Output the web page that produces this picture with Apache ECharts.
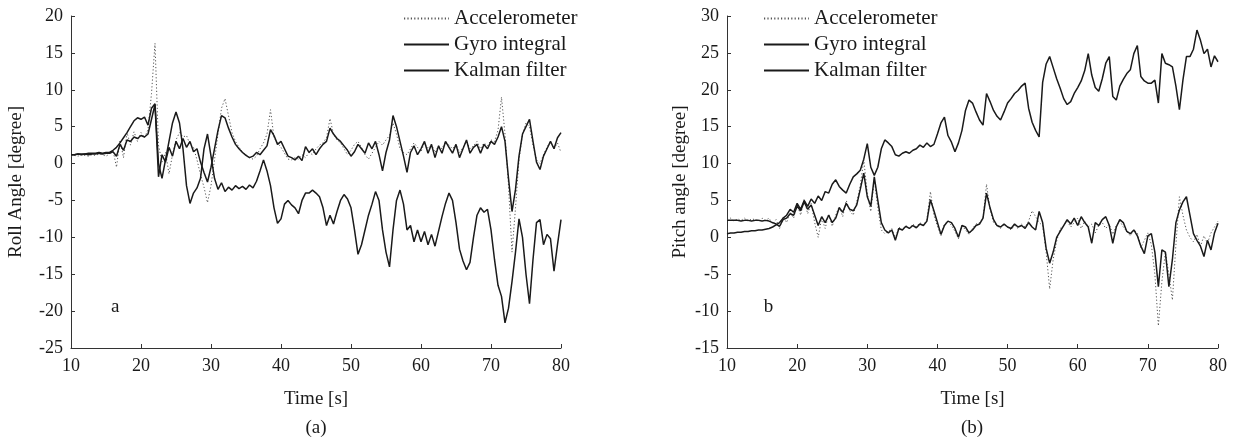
<!DOCTYPE html>
<html>
<head>
<meta charset="utf-8">
<script src="https://cdn.jsdelivr.net/npm/echarts@6/dist/echarts.min.js"></script>
<style>
html,body{margin:0;padding:0;background:#fff;}
#chart{width:1245px;height:443px;}
</style>
</head>
<body>
<div id="chart"></div>
<script>
// Sampling times [s]
const TIME = [10,10.5,11,11.5,12,12.5,13,13.5,14,14.5,15,15.5,
16,16.5,17,17.5,18,18.5,19,19.5,20,20.5,21,21.5,
22,22.5,23,23.5,24,24.5,25,25.5,26,26.5,27,27.5,
28,28.5,29,29.5,30,30.5,31,31.5,32,32.5,33,33.5,
34,34.5,35,35.5,36,36.5,37,37.5,38,38.5,39,39.5,
40,40.5,41,41.5,42,42.5,43,43.5,44,44.5,45,45.5,
46,46.5,47,47.5,48,48.5,49,49.5,50,50.5,51,51.5,
52,52.5,53,53.5,54,54.5,55,55.5,56,56.5,57,57.5,
58,58.5,59,59.5,60,60.5,61,61.5,62,62.5,63,63.5,
64,64.5,65,65.5,66,66.5,67,67.5,68,68.5,69,69.5,
70,70.5,71,71.5,72,72.5,73,73.5,74,74.5,75,75.5,
76,76.5,77,77.5,78,78.5,79,79.5,80];

// (a) Roll angle [degree]
const rollAccelerometer = [1.0,1.1,1.0,1.2,1.1,1.0,1.2,1.1,1.3,1.2,1.0,1.3,
1.8,-0.5,3.2,0.8,4.2,2.5,4.3,3.0,4.2,3.5,4.6,9.5,
16.3,2.5,0.2,1.5,-1.4,1.2,3.2,4.2,3.6,3.8,2.6,2.2,
0.5,-1.5,-3.2,-5.3,-3.0,0.5,4.0,7.5,8.8,6.5,4.2,3.0,
2.2,1.6,1.2,0.8,0.6,1.0,2.0,2.8,4.0,7.3,3.5,2.8,
2.2,1.4,0.6,0.5,0.8,0.6,1.2,0.8,1.5,1.2,2.0,2.5,
2.8,3.5,6.1,4.0,3.2,2.8,2.0,1.2,1.8,2.6,3.0,2.2,
1.2,0.6,1.4,2.2,3.0,2.5,3.2,3.8,5.5,4.0,2.0,1.5,
1.2,2.0,2.8,2.2,1.6,2.8,2.0,2.6,1.5,2.4,2.0,3.0,
2.5,2.0,2.6,1.5,2.2,3.0,2.0,2.4,3.0,2.0,2.8,2.4,
3.2,3.0,4.5,9.0,4.0,-3.0,-12.0,-6.0,0.5,4.0,5.5,5.0,
2.5,0.5,0.0,1.2,2.2,3.0,2.0,2.8,1.5];
const rollGyro = [1.2,1.2,1.3,1.3,1.3,1.4,1.4,1.4,1.5,1.4,1.5,1.5,
1.8,2.2,2.8,3.5,4.2,5.0,5.8,6.2,6.0,6.3,5.2,7.5,
8.1,0.0,-2.0,0.5,3.0,5.5,7.0,5.5,2.0,-3.0,-5.4,-4.0,
-3.3,-2.0,2.0,4.0,1.0,-2.0,-3.5,-2.6,-3.8,-3.2,-3.6,-3.0,
-3.4,-3.1,-3.5,-2.9,-3.3,-2.4,-1.0,0.5,-1.0,-3.0,-6.0,-8.1,
-7.5,-5.5,-5.0,-5.6,-6.0,-6.8,-5.0,-4.0,-4.0,-3.6,-4.0,-4.5,
-6.0,-8.4,-7.0,-8.2,-6.5,-5.0,-4.2,-4.8,-6.0,-9.0,-12.3,-11.0,
-9.0,-7.0,-5.5,-3.8,-5.0,-9.0,-12.0,-14.0,-9.0,-5.0,-3.6,-5.5,
-9.0,-8.4,-10.6,-9.0,-10.6,-9.2,-11.0,-9.6,-11.2,-9.2,-7.2,-5.4,
-4.0,-5.0,-8.0,-11.6,-13.2,-14.4,-13.4,-10.0,-7.0,-6.0,-6.6,-6.2,
-9.0,-13.0,-16.5,-18.0,-21.6,-19.6,-16.0,-12.0,-7.5,-10.0,-15.0,-19.0,
-13.0,-8.0,-7.6,-11.0,-9.6,-10.2,-14.6,-11.0,-7.6];
const rollKalman = [1.2,1.2,1.3,1.2,1.3,1.2,1.3,1.3,1.4,1.3,1.4,1.4,
1.6,1.0,2.6,1.8,3.2,3.0,3.6,3.4,3.8,3.6,4.0,6.0,
8.0,-1.8,1.2,0.2,2.2,1.0,3.0,2.0,3.4,2.2,3.0,1.6,
2.0,0.2,-1.2,-2.5,-0.5,2.0,4.5,6.5,6.2,4.8,3.6,2.6,
2.0,1.5,1.1,0.8,1.0,1.5,1.2,1.8,2.4,4.6,3.8,2.6,
3.0,2.0,1.0,0.8,0.5,1.0,0.4,2.3,1.5,2.0,1.2,2.0,
2.6,3.0,4.8,4.0,3.4,3.0,2.4,1.8,1.0,1.6,2.6,2.0,
1.4,2.8,2.0,3.0,1.2,-1.0,1.5,3.2,6.5,5.0,3.0,1.0,
-1.2,1.5,2.4,1.2,2.0,3.0,1.4,2.6,0.8,2.4,1.4,3.0,
2.2,1.4,2.6,0.8,2.0,3.2,1.4,2.2,2.6,1.4,2.6,2.0,
3.0,2.6,3.6,5.0,3.0,-2.0,-6.5,-3.5,1.0,4.0,5.0,6.0,
3.0,0.2,-0.8,1.0,2.0,3.0,2.0,3.5,4.2];

// (b) Pitch angle [degree]
const pitchAccelerometer = [2.4,2.6,2.2,2.5,2.3,2.6,2.2,2.5,2.4,2.2,2.6,2.3,
2.6,1.8,2.4,1.2,2.8,2.0,3.4,2.6,4.5,3.0,5.2,3.2,
4.6,2.0,0.0,2.6,1.2,3.2,1.5,3.0,4.2,2.8,5.0,3.6,
3.0,4.8,7.0,10.5,6.0,3.5,7.8,4.0,1.0,0.5,0.8,1.2,
-0.2,1.4,1.0,1.6,1.2,1.8,1.4,2.0,1.6,2.4,6.2,3.0,
1.5,0.2,1.8,2.2,1.6,0.8,-0.2,1.6,1.0,0.4,1.2,1.8,
2.0,2.6,7.2,3.8,2.0,1.6,1.2,1.8,1.4,1.0,1.6,1.2,
1.8,1.4,2.2,3.6,2.8,2.0,1.6,-2.0,-7.0,-3.0,-0.5,1.2,
1.6,2.2,1.4,2.0,2.6,1.2,2.2,1.4,1.8,0.6,1.6,2.0,
1.2,1.8,0.4,1.6,2.2,1.4,0.8,0.2,1.0,0.6,-1.4,-0.4,
0.6,-1.0,-5.0,-12.0,-6.0,-2.0,-5.0,-8.5,-1.0,5.5,3.0,1.0,
0.0,-0.6,0.4,-1.2,0.2,-0.8,0.6,1.4,2.2];
const pitchGyro = [0.5,0.6,0.6,0.7,0.7,0.8,0.8,0.9,0.9,1.0,1.0,1.1,
1.2,1.4,1.7,2.0,2.6,3.0,3.8,3.4,4.6,3.8,5.0,4.2,
5.2,4.6,5.6,5.0,6.2,6.0,7.2,7.8,6.9,6.4,6.0,7.2,
8.2,8.6,9.1,10.6,12.7,9.5,8.4,9.5,12.0,13.2,12.8,12.3,
11.2,11.0,11.4,11.6,11.4,11.8,12.0,12.5,12.2,12.8,12.3,12.6,
14.0,15.5,16.3,13.8,12.9,11.6,12.8,14.5,17.2,18.6,18.2,17.0,
15.9,15.2,19.5,18.4,17.2,16.4,15.9,17.0,18.2,18.8,19.5,19.9,
20.5,20.9,17.5,15.6,14.5,13.6,21.0,23.5,24.5,23.0,21.5,20.2,
18.8,18.0,18.4,19.5,20.3,21.2,22.6,24.9,22.0,20.3,19.8,21.5,
23.6,24.5,19.1,18.6,20.5,21.4,22.2,22.7,24.9,26.0,21.8,21.2,
20.9,20.9,21.3,18.2,24.9,23.6,23.4,23.1,20.5,17.3,21.3,24.5,
24.5,25.5,28.1,26.7,24.9,25.5,23.1,24.6,23.8];
const pitchKalman = [2.3,2.3,2.3,2.3,2.2,2.3,2.3,2.2,2.3,2.3,2.2,2.3,
2.2,2.0,1.8,1.5,2.4,2.6,3.2,3.0,4.2,3.6,4.8,3.8,
4.4,3.0,1.6,2.8,2.0,3.0,2.0,2.6,4.0,3.4,4.6,3.8,
3.6,4.4,6.5,8.7,5.5,4.2,8.2,5.0,2.0,1.0,0.6,1.0,
-0.4,1.2,1.0,1.5,1.2,1.6,1.3,1.8,1.6,2.2,5.1,3.6,
2.0,0.4,1.6,2.2,2.0,1.2,0.0,1.6,1.4,0.6,1.0,1.6,
1.8,2.6,6.0,4.0,2.4,1.6,1.4,1.8,1.4,1.2,1.8,1.4,
1.6,1.2,2.0,1.4,1.0,3.5,2.0,-1.5,-3.5,-2.0,0.0,0.8,
1.6,2.4,1.8,2.6,1.6,2.8,2.0,1.4,-0.8,2.0,1.6,2.4,
2.8,1.6,-0.8,1.4,2.4,2.0,0.8,0.5,1.0,0.2,-1.2,-2.2,
0.2,0.5,-2.0,-6.7,-1.7,-2.0,-6.7,-3.0,2.0,3.7,4.8,5.5,
3.0,0.5,-0.4,-1.2,-2.6,-0.4,-1.7,0.6,1.9];

const SERIES_NAMES = ['Accelerometer', 'Gyro integral', 'Kalman filter'];
const X_TICKS = [10, 20, 30, 40, 50, 60, 70, 80];
const ROLL_Y_RANGE = [-25, 20];
const PITCH_Y_RANGE = [-15, 30];
const PANEL_LETTERS = ['a', 'b'];
const PANEL_LETTER_AT = [[16.3, -19.4], [15.9, -9.4]];
const CAPTIONS = ['(a)', '(b)'];

const FONT = '"Liberation Serif", "Times New Roman", Times, serif';
const INK = '#1a1a1a';

function pairs(vals) { return TIME.map((t, i) => [t, vals[i]]); }

function xAxis(gi) {
  return {
    type: 'value', gridIndex: gi, min: X_TICKS[0], max: X_TICKS[X_TICKS.length - 1], interval: 10,
    name: 'Time [s]', nameLocation: 'middle', nameGap: 42,
    nameTextStyle: { fontFamily: FONT, fontSize: 19, color: INK },
    axisLine: { onZero: false, lineStyle: { color: '#333', width: 1 } },
    axisTick: { inside: true, length: 4, lineStyle: { color: '#333' } },
    axisLabel: { fontFamily: FONT, fontSize: 18, color: INK, margin: 9 },
    splitLine: { show: false }
  };
}
function yAxis(gi, range, name, gap) {
  return {
    type: 'value', gridIndex: gi, min: range[0], max: range[1], interval: 5,
    name: name, nameLocation: 'middle', nameGap: gap,
    nameTextStyle: { fontFamily: FONT, fontSize: 19, color: INK },
    axisLine: { onZero: false, lineStyle: { color: '#333', width: 1 } },
    axisTick: { inside: true, length: 4, lineStyle: { color: '#333' } },
    axisLabel: { fontFamily: FONT, fontSize: 18, color: INK, margin: 8 },
    splitLine: { show: false }
  };
}
function lineSeries(name, gi, vals, dotted, letterIdx) {
  const s = {
    name: name, type: 'line', xAxisIndex: gi, yAxisIndex: gi,
    data: pairs(vals), symbol: 'none', showSymbol: false, animation: false,
    lineStyle: dotted ? { color: '#555', width: 1, type: [1.2, 2.2] } : { color: INK, width: 1.5 },
    itemStyle: { color: dotted ? '#555' : INK },
    z: dotted ? 1 : 2
  };
  if (letterIdx !== undefined) {
    s.markPoint = {
      symbol: 'circle', symbolSize: 0, silent: true, animation: false,
      label: { show: true, formatter: PANEL_LETTERS[letterIdx], fontFamily: FONT, fontSize: 19, color: INK },
      data: [{ coord: PANEL_LETTER_AT[letterIdx] }]
    };
  }
  return s;
}
function legend(left) {
  return {
    left: left, top: 3, orient: 'vertical', itemWidth: 45, itemHeight: 14, itemGap: 5,
    data: SERIES_NAMES, selectedMode: false,
    itemStyle: { opacity: 0, borderWidth: 0 },
    textStyle: { fontFamily: FONT, fontSize: 21, color: INK }
  };
}

const chart = echarts.init(document.getElementById('chart'), null, { renderer: 'canvas' });
chart.setOption({
  backgroundColor: '#fff',
  animation: false,
  grid: [
    { left: 71, top: 16, width: 490, height: 332 },
    { left: 727, top: 16, width: 491, height: 332 }
  ],
  xAxis: [xAxis(0), xAxis(1)],
  yAxis: [yAxis(0, ROLL_Y_RANGE, 'Roll Angle [degree]', 45), yAxis(1, PITCH_Y_RANGE, 'Pitch angle [degree]', 37)],
  legend: [legend(398), legend(758)],
  series: [
    lineSeries(SERIES_NAMES[0], 0, rollAccelerometer, true),
    lineSeries(SERIES_NAMES[1], 0, rollGyro, false),
    lineSeries(SERIES_NAMES[2], 0, rollKalman, false, 0),
    lineSeries(SERIES_NAMES[0], 1, pitchAccelerometer, true),
    lineSeries(SERIES_NAMES[1], 1, pitchGyro, false),
    lineSeries(SERIES_NAMES[2], 1, pitchKalman, false, 1)
  ],
  graphic: [
    { type: 'text', x: 316, y: 428, style: { text: CAPTIONS[0], fontFamily: FONT, fontSize: 19, fill: INK, align: 'center', verticalAlign: 'middle' } },
    { type: 'text', x: 972, y: 428, style: { text: CAPTIONS[1], fontFamily: FONT, fontSize: 19, fill: INK, align: 'center', verticalAlign: 'middle' } }
  ]
});
</script>
</body>
</html>
